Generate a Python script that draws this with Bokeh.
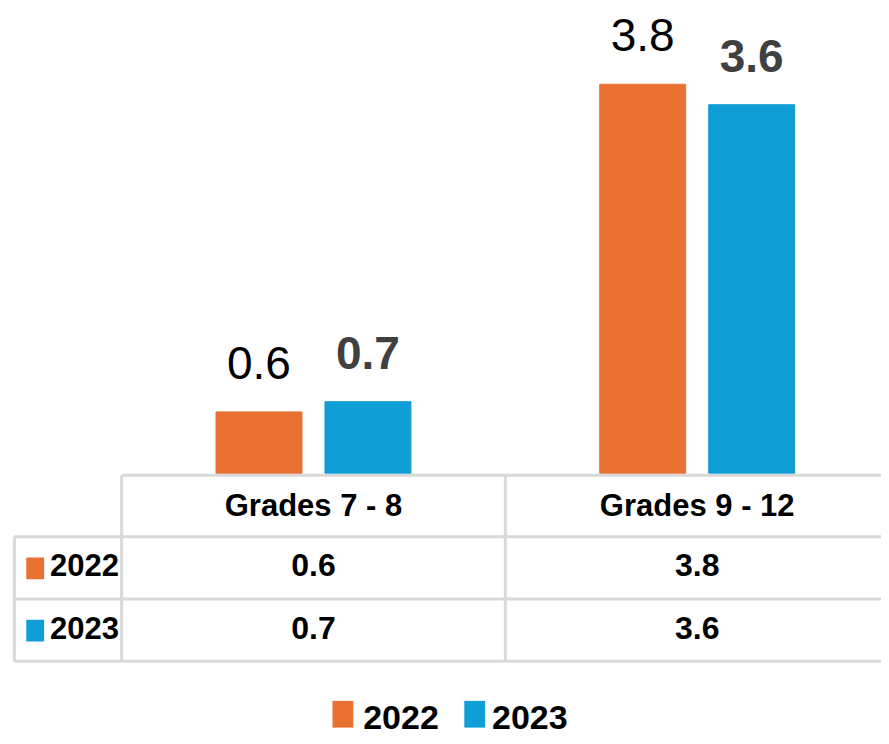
import numpy as np
from bokeh.plotting import figure
from bokeh.models import Range1d, ColumnDataSource
from bokeh.core.properties import value
from bokeh.embed import file_html
from bokeh.resources import INLINE

# ---- data ----
categories = ["Grades 7 - 8", "Grades 9 - 12"]
series_names = ["2022", "2023"]
values_2022 = [0.6, 3.8]
values_2023 = [0.7, 3.6]
colors = ["#E97132", "#0F9ED5"]

FONT = "Liberation Sans"
GRID = "#D9D9D9"

W, H = 881, 736
p = figure(width=W, height=H, output_backend="svg", toolbar_location=None,
           x_range=Range1d(-0.3156, 1.9803), y_range=Range1d(-2.570, 4.618),
           min_border=0, outline_line_color=None)
p.axis.visible = False
p.grid.visible = False
p.background_fill_color = "white"
p.border_fill_color = "white"
# layout coordinate system (reference-picture pixels, top-left origin)
p.extra_x_ranges = {"px": Range1d(0, 889)}
p.extra_y_ranges = {"px": Range1d(744, 0)}

idx = np.arange(len(categories)) + 0.5
off = 0.142
bw = 0.224
series = [values_2022, values_2023]
label_styles = [dict(color="#000000", style="normal"), dict(color="#404040", style="bold")]

for k, vals in enumerate(series):
    xs = idx + (off if k == 1 else -off)
    src = ColumnDataSource(dict(x=xs, top=vals, lab=[f"{v:.1f}" for v in vals]))
    p.vbar(x="x", top="top", bottom=0, width=bw, source=src,
           fill_color=colors[k], line_color=colors[k])
    p.text(x="x", y="top", text="lab", source=src, text_align="center",
           text_baseline="alphabetic", y_offset=-49,
           text_font=value(FONT), text_font_size="46px",
           text_font_style=label_styles[k]["style"],
           text_color=label_styles[k]["color"])

# ---- data table ----
p.segment(x0=[123], y0=[480], x1=[889], y1=[480], x_range_name="px", y_range_name="px",
          line_color=GRID, line_width=3)
p.segment(x0=[14, 14, 14], y0=[542, 605, 668], x1=[889, 889, 889], y1=[542, 605, 668],
          x_range_name="px", y_range_name="px", line_color=GRID, line_width=3)
p.segment(x0=[14], y0=[542], x1=[14], y1=[668], x_range_name="px", y_range_name="px",
          line_color=GRID, line_width=3)
p.segment(x0=[0, 1], y0=[480, 480], x1=[0, 1], y1=[668, 668], y_range_name="px",
          line_color=GRID, line_width=3)

p.text(x=idx, y=[510] * len(categories), text=categories, y_range_name="px",
       text_align="center", text_baseline="alphabetic",
       text_font=value(FONT), text_font_size="31px", text_font_style="bold",
       text_color="#000000")
row_base = [571, 634]
row_sq = [(563, 585), (626, 648)]
for k, vals in enumerate(series):
    p.text(x=idx, y=[row_base[k]] * len(vals), text=[f"{v:.1f}" for v in vals],
           y_range_name="px", text_align="center", text_baseline="alphabetic",
           text_font=value(FONT), text_font_size="32px", text_font_style="bold",
           text_color="#000000")
    p.quad(left=[26], right=[44], top=[row_sq[k][0]], bottom=[row_sq[k][1]],
           x_range_name="px", y_range_name="px", fill_color=colors[k], line_color=None)
    p.text(x=[50], y=[row_base[k]], text=[series_names[k]], x_range_name="px",
           y_range_name="px", text_align="left", text_baseline="alphabetic",
           text_font=value(FONT), text_font_size="31px", text_font_style="bold",
           text_color="#000000")

# ---- legend ----
leg_sq_x = [335, 468]
leg_txt_x = [366, 496]
for k in range(len(series_names)):
    p.quad(left=[leg_sq_x[k]], right=[leg_sq_x[k] + 21], top=[708], bottom=[735],
           x_range_name="px", y_range_name="px", fill_color=colors[k], line_color=None)
    p.text(x=[leg_txt_x[k]], y=[736], text=[series_names[k]], x_range_name="px",
           y_range_name="px", text_align="left", text_baseline="bottom",
           text_font=value(FONT), text_font_size="34px", text_font_style="bold",
           text_color="#000000")

open("out.html", "w").write(file_html(p, INLINE))
